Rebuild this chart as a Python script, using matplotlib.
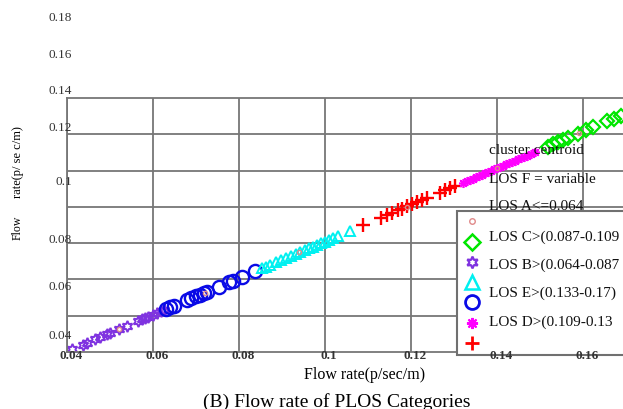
import matplotlib.pyplot as plt
from matplotlib.lines import Line2D
from matplotlib.transforms import offset_copy

# === DATA ===
# LOS A - purple hexagrams
los_a_x = [0.0412, 0.0437, 0.0447, 0.0465, 0.0477, 0.0493, 0.0500, 0.0521, 0.0540,
           0.0565, 0.0574, 0.0581, 0.0588, 0.0600, 0.0609, 0.0619, 0.0626]
los_a_y = [0.0415, 0.0441, 0.0452, 0.0470, 0.0482, 0.0498, 0.0505, 0.0527, 0.0546,
           0.0571, 0.0580, 0.0587, 0.0594, 0.0606, 0.0615, 0.0625, 0.0632]
# LOS B - blue circles
los_b_x = [0.0630, 0.0640, 0.0649, 0.0679, 0.0688, 0.0700, 0.0709, 0.0719, 0.0726,
           0.0753, 0.0777, 0.0786, 0.0807, 0.0837]
los_b_y = [0.0636, 0.0646, 0.0655, 0.0686, 0.0695, 0.0707, 0.0716, 0.0725, 0.0732,
           0.0760, 0.0784, 0.0794, 0.0815, 0.0845]
# LOS C - cyan triangles
los_c_x = [0.0853, 0.0863, 0.0872, 0.0886, 0.0898, 0.0909, 0.0921, 0.0933, 0.0942, 0.0953,
           0.0963, 0.0972, 0.0981, 0.0991, 0.1000, 0.1009, 0.1019, 0.1030, 0.1058]
los_c_y = [0.0861, 0.0871, 0.0880, 0.0894, 0.0906, 0.0918, 0.0929, 0.0941, 0.0951, 0.0962,
           0.0972, 0.0981, 0.0990, 0.1000, 0.1009, 0.1018, 0.1028, 0.1039, 0.1068]
# LOS D - red plus
los_d_x = [0.1088, 0.1130, 0.1144, 0.1156, 0.1170, 0.1179, 0.1191, 0.1202, 0.1214,
           0.1226, 0.1237, 0.1267, 0.1279, 0.1291, 0.1302]
los_d_y = [0.1098, 0.1140, 0.1155, 0.1166, 0.1181, 0.1190, 0.1202, 0.1213, 0.1225,
           0.1237, 0.1248, 0.1279, 0.1291, 0.1302, 0.1314]
# LOS E - magenta asterisks
los_e_x = [0.1321, 0.1330, 0.1337, 0.1344, 0.1351, 0.1358, 0.1365, 0.1372, 0.1379, 0.1386,
           0.1393, 0.1400, 0.1407, 0.1414, 0.1421, 0.1428, 0.1435, 0.1442, 0.1449, 0.1456,
           0.1463, 0.1470, 0.1479, 0.1488]
los_e_y = [0.1333, 0.1342, 0.1349, 0.1356, 0.1364, 0.1370, 0.1377, 0.1385, 0.1392, 0.1398,
           0.1406, 0.1413, 0.1420, 0.1426, 0.1434, 0.1441, 0.1448, 0.1455, 0.1462, 0.1469,
           0.1476, 0.1483, 0.1493, 0.1502]
# LOS F - green diamonds
los_f_x = [0.1519, 0.1530, 0.1542, 0.1553, 0.1565, 0.1588, 0.1607, 0.1623, 0.1656, 0.1672, 0.1688]
los_f_y = [0.1532, 0.1544, 0.1555, 0.1568, 0.1579, 0.1603, 0.1622, 0.1638, 0.1671, 0.1687, 0.1703]
# cluster centroids
cent_x = [0.0520, 0.0721, 0.0940, 0.1190, 0.1400, 0.1590]
cent_y = [0.0526, 0.0727, 0.0950, 0.1201, 0.1413, 0.1605]

x_ticks = [0.04, 0.06, 0.08, 0.10, 0.12, 0.14, 0.16]
x_tick_labels = ['0.04', '0.06', '0.08', '0.1', '0.12', '0.14', '0.16']
y_grid = [0.06, 0.08, 0.10, 0.12, 0.14, 0.16]
# y tick labels sit off their grid lines in the source image (pixel rows)
y_tick_labels = ['0.18', '0.16', '0.14', '0.12', '0.1', '0.08', '0.06', '0.04']
y_tick_rows = [18, 55, 91, 128, 182, 240, 287, 336]

# legend labels are shifted up in the source and cut at the right edge
legend_texts = ['cluster centroid', 'LOS F = variable', 'LOS A<=0.064',
                'LOS C>(0.087-0.109', 'LOS B>(0.064-0.087',
                'LOS E>(0.133-0.17)', 'LOS D>(0.109-0.13']
legend_rows = [150, 180, 207, 237, 265, 293, 322]

serif = ['Liberation Serif', 'DejaVu Serif']
W, H = 623, 410
rect = [67 / W, 1 - 353 / H, (W - 67) / W, (353 - 99) / H]
xlim = (0.04, 0.04 + (W - 67) / 4300)

# === FIGURE ===
fig = plt.figure(figsize=(W / 100, H / 100), dpi=100)
ax = fig.add_axes(rect)
ax.set_xlim(xlim)
ax.set_ylim(0.04, 0.18)

grid_col = '#767676'
ax.set_xticks(x_ticks)
ax.set_yticks(y_grid)
ax.tick_params(length=0, labelbottom=False, labelleft=False)
ax.grid(True, color=grid_col, linewidth=1.3)
for s in ['top', 'left', 'bottom']:
    ax.spines[s].set_color(grid_col)
    ax.spines[s].set_linewidth(1.3)
ax.spines['right'].set_visible(False)

ax.plot(los_a_x, los_a_y, ls='none', marker=(6, 1, 0), ms=8, mfc='none', mec='#7f33e0', mew=1.4)
ax.plot(los_b_x, los_b_y, ls='none', marker='o', ms=9.5, mfc='none', mec='#0a0ae6', mew=1.7)
ax.plot(los_c_x, los_c_y, ls='none', marker='^', ms=7.5, mfc='none', mec='#00f0f0', mew=1.4)
ax.plot(los_d_x, los_d_y, ls='none', marker='+', ms=10, mec='#ff0000', mew=1.7)
ax.plot(los_e_x, los_e_y, ls='none', marker=(8, 2, 0), ms=6.5, mec='#ff00ff', mew=1.2)
ax.plot(los_f_x, los_f_y, ls='none', marker='D', ms=7, mfc='none', mec='#00e600', mew=1.6)
ax.plot(cent_x, cent_y, ls='none', marker='o', ms=3, mfc='none', mec='#e08a8a', mew=1)

# legend box: markers only
handles = [
    Line2D([], [], ls='none', marker='o', ms=4, mfc='none', mec='#e08a8a', mew=1),
    Line2D([], [], ls='none', marker='D', ms=8, mfc='none', mec='#00e600', mew=1.8),
    Line2D([], [], ls='none', marker=(6, 1, 0), ms=8.5, mfc='none', mec='#7f33e0', mew=1.6),
    Line2D([], [], ls='none', marker='^', ms=10, mfc='none', mec='#00f0f0', mew=1.8),
    Line2D([], [], ls='none', marker='o', ms=10, mfc='none', mec='#0a0ae6', mew=2),
    Line2D([], [], ls='none', marker=(8, 2, 0), ms=8, mec='#ff00ff', mew=1.5),
    Line2D([], [], ls='none', marker='+', ms=10, mec='#ff0000', mew=2),
]
leg = ax.legend(handles, [' '] * 7, loc='upper left',
                bbox_to_anchor=((457 - 67) / (W - 67), (353 - 212) / 254, 0.4, 0),
                mode='expand', fontsize=10, labelspacing=0.45, borderpad=0.3,
                handlelength=1.5, borderaxespad=0, fancybox=False, framealpha=1,
                edgecolor='#707070', handletextpad=0.5)
leg.get_frame().set_linewidth(1.5)

# x tick labels on an overlay axes so they sit on top of the legend box
ax_lab = fig.add_axes(rect, zorder=3)
ax_lab.set_xlim(xlim)
ax_lab.patch.set_visible(False)
for s in ax_lab.spines.values():
    s.set_visible(False)
ax_lab.set_yticks([])
ax_lab.set_xticks(x_ticks)
ax_lab.set_xticklabels(x_tick_labels, family=serif, fontsize=9.5, fontweight='bold',
                       color='#333333')
ax_lab.tick_params(length=0, pad=-2.5)
for lab in ax_lab.get_xticklabels():
    lab.set_transform(offset_copy(lab.get_transform(), fig=fig, x=4, y=0, units='dots'))

for txt, row in zip(legend_texts, legend_rows):
    fig.text(489 / W, 1 - row / H, txt, family=serif, fontsize=11,
             color='#111111', va='center', ha='left', zorder=10)

for lab, row in zip(y_tick_labels, y_tick_rows):
    fig.text(72 / W, 1 - row / H, lab, family=serif, fontsize=9.5,
             color='#333333', va='center', ha='right')

fig.text(18 / W, 1 - 228 / H, 'Flow', family=serif, fontsize=8.5,
         rotation=90, va='center', ha='center')
fig.text(18 / W, 1 - 162 / H, 'rate(p/ se c/m)', family=serif, fontsize=9,
         rotation=90, va='center', ha='center')

fig.text(365 / W, 1 - 375 / H, 'Flow rate(p/sec/m)', family=serif, fontsize=11.5,
         va='center', ha='center')
fig.text(337 / W, 1 - 402 / H, '(B) Flow rate of PLOS Categories', family=serif,
         fontsize=14, va='center', ha='center')

fig.savefig('out.png', dpi=100)
